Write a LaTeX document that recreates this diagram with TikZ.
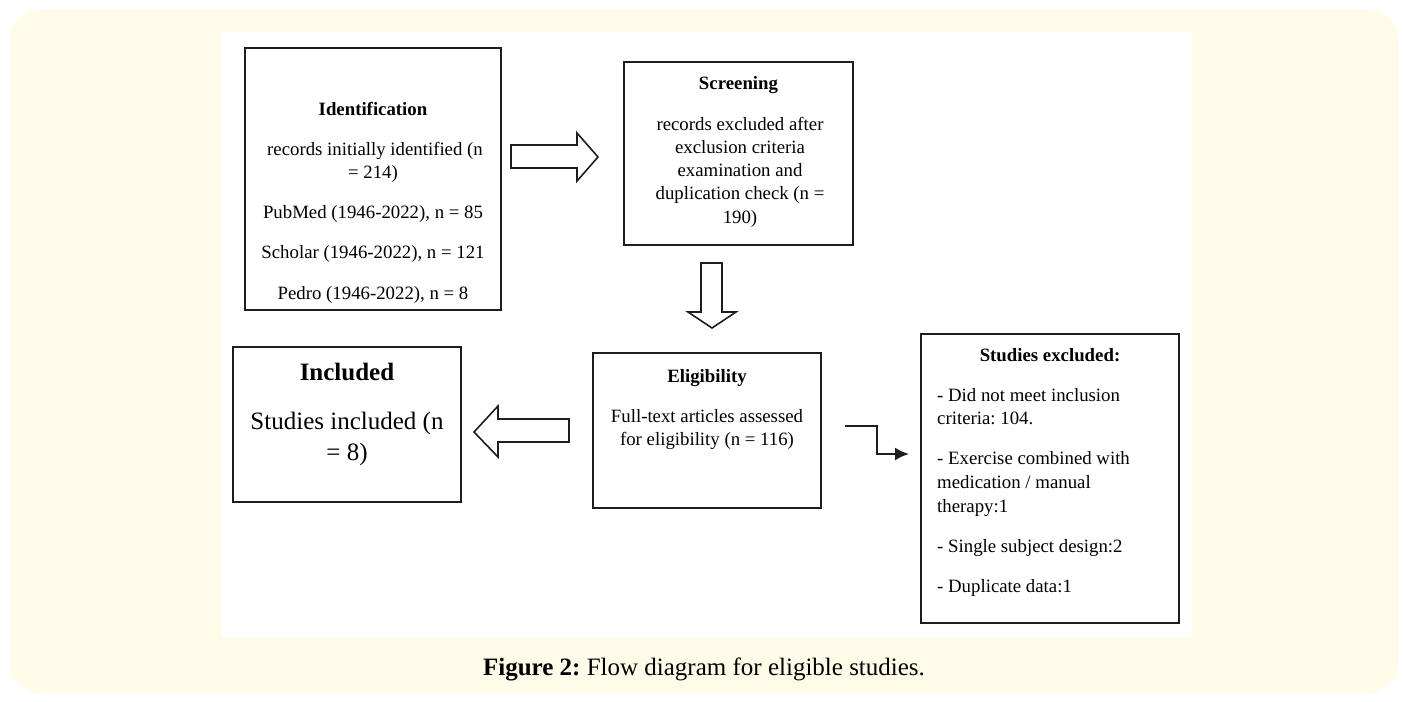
\documentclass[tikz,border=0pt]{standalone}
\usepackage{fontspec}
\setmainfont{Liberation Serif}
\usetikzlibrary{arrows.meta}
\definecolor{cream}{RGB}{255,251,233}
\definecolor{boxc}{RGB}{30,30,30}
\frenchspacing
\begin{document}
\begin{tikzpicture}[x=1pt,y=-1pt,
  box/.style={draw=boxc, line width=2pt, fill=white, inner sep=0pt},
  txt/.style={anchor=base, inner sep=0pt, text=black, font=\fontsize{18.8}{23}\selectfont},
  ttl/.style={txt, font=\fontsize{18.8}{23}\selectfont\bfseries},
  big/.style={anchor=base, inner sep=0pt, text=black, font=\fontsize{25}{30}\selectfont},
  bigttl/.style={big, font=\fontsize{25}{30}\selectfont\bfseries},
  lft/.style={txt, anchor=base west},
  blockarrow/.style={draw=boxc, line width=1.6pt, fill=white, line join=miter},
  conn/.style={draw=boxc, line width=2pt, -{Latex[length=14pt,width=13pt]}}
]
\useasboundingbox (0,0) rectangle (1404,701);
\fill[white] (0,0) rectangle (1404,701);
\fill[cream, rounded corners=30pt] (10,10) rectangle (1398,693);
\fill[white] (221,32) rectangle (1192,637);

% boxes
\node[box, minimum width=256pt, minimum height=262pt] (ident) at (373,179) {};
\node[box, minimum width=229pt, minimum height=183pt] (screen) at (738.5,153.5) {};
\node[box, minimum width=228pt, minimum height=155pt] (incl) at (347,424.5) {};
\node[box, minimum width=228pt, minimum height=155pt] (elig) at (707,430.5) {};
\node[box, minimum width=258pt, minimum height=289pt] (excl) at (1050,478.5) {};

% Identification text
\node[ttl] (id0) at (373,115) {Identification};
\node[txt] (id1) at (375,155) {records initially identified (n};
\node[txt] (id2) at (373,178) {= 214)};
\node[txt] (id3) at (373,218) {PubMed (1946-2022), n = 85};
\node[txt] (id4) at (373,258) {Scholar (1946-2022), n = 121};
\node[txt] (id5) at (373,299) {Pedro (1946-2022), n = 8};

% Screening text
\node[ttl] (sc0) at (738.5,89) {Screening};
\node[txt] (sc1) at (740,130) {records excluded after};
\node[txt] (sc2) at (740,153) {exclusion criteria};
\node[txt] (sc3) at (740,176) {examination and};
\node[txt] (sc4) at (740,199) {duplication check (n =};
\node[txt] (sc5) at (740,223) {190)};

% Included text
\node[bigttl] (in0) at (347,380) {Included};
\node[big] (in1) at (347,429) {Studies included (n};
\node[big] (in2) at (347,460) {= 8)};

% Eligibility text
\node[ttl] (el0) at (707,382) {Eligibility};
\node[txt] (el1) at (707,422) {Full-text articles assessed};
\node[txt] (el2) at (707,445) {for eligibility (n = 116)};

% Excluded text
\node[ttl] (ex0) at (1050,361) {Studies excluded:};
\node[lft] (ex1) at (937,401) {- Did not meet inclusion};
\node[lft] (ex2) at (937,424) {criteria: 104.};
\node[lft] (ex3) at (937,464) {- Exercise combined with};
\node[lft] (ex4) at (937,488) {medication / manual};
\node[lft] (ex5) at (937,512) {therapy:1};
\node[lft] (ex6) at (937,552) {- Single subject design:2};
\node[lft] (ex7) at (937,592) {- Duplicate data:1};

% block arrows
\draw[blockarrow] (511,145) -- (577,145) -- (577,133) -- (598,157) -- (577,181) -- (577,168) -- (511,168) -- cycle;
\draw[blockarrow] (701,263) -- (722,263) -- (722,312) -- (736,312) -- (712,328) -- (688,312) -- (701,312) -- cycle;
\draw[blockarrow] (569,419) -- (498,419) -- (498,406) -- (474,432) -- (498,457) -- (498,442) -- (569,442) -- cycle;

% elbow connector
\coordinate (elbS) at (845,426);
\coordinate (elbY) at (900,454);
\draw[conn, shorten >=11pt] (elbS) -- ++(32,0) |- (excl.west |- elbY);

% caption
\node[anchor=base, inner sep=0pt, text=black, font=\fontsize{25}{30}\selectfont] (cap) at (704,675) {\textbf{Figure 2:} Flow diagram for eligible studies.};
\end{tikzpicture}
\end{document}
